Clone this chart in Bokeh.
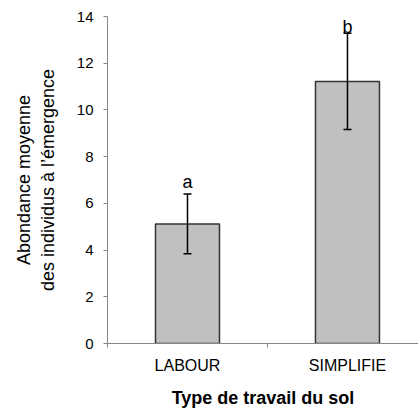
from bokeh.plotting import figure
from bokeh.models import Range1d, FixedTicker
from bokeh.core.properties import value
from bokeh.embed import file_html
from bokeh.resources import INLINE

categories = ["LABOUR", "SIMPLIFIE"]
means = [5.12, 11.22]
errors = [1.28, 2.06]
letters = ["a", "b"]
letter_y = [6.68, 13.33]
y_ticks = [0, 2, 4, 6, 8, 10, 12, 14]

FONT = "Liberation Sans"

xs = [i + 0.5 for i in range(len(categories))]
lower = [m - e for m, e in zip(means, errors)]
upper = [m + e for m, e in zip(means, errors)]
cap = 0.025

p = figure(width=418, height=410, output_backend="svg", toolbar_location=None,
           x_range=Range1d(0, 1.944), y_range=Range1d(0, 14),
           min_border_left=107, min_border_right=0, min_border_top=16, min_border_bottom=66)
p.outline_line_color = None
p.xgrid.grid_line_color = None
p.ygrid.grid_line_color = None
p.background_fill_color = "white"
p.border_fill_color = "white"

p.vbar(x=xs, top=means, bottom=0, width=0.4, fill_color="#C0C0C0",
       line_color="#333333", line_width=1.5)
p.segment(x0=xs, y0=lower, x1=xs, y1=upper, line_color="black", line_width=1.5)
p.segment(x0=[x - cap for x in xs], y0=upper, x1=[x + cap for x in xs], y1=upper,
          line_color="black", line_width=1.5)
p.segment(x0=[x - cap for x in xs], y0=lower, x1=[x + cap for x in xs], y1=lower,
          line_color="black", line_width=1.5)
p.text(x=xs, y=letter_y, text=letters, text_font=value(FONT), text_font_size="18px",
       text_align="center", text_baseline="alphabetic", text_color="black",
       y_offset=-5)

axis_gray = "#868686"

# y axis
ya = p.yaxis[0]
ya.ticker = FixedTicker(ticks=y_ticks)
ya.axis_line_color = axis_gray
ya.major_tick_line_color = axis_gray
ya.major_tick_out = 4
ya.major_tick_in = 0
ya.minor_tick_line_color = None
ya.major_label_text_font = FONT
ya.major_label_text_font_size = "15px"
ya.major_label_text_color = "black"
ya.major_label_standoff = 10
ya.axis_label = "Abondance moyenne\ndes individus à l’émergence"
ya.axis_label_text_font = FONT
ya.axis_label_text_font_size = "18px"
ya.axis_label_text_font_style = "normal"
ya.axis_label_text_color = "black"
ya.axis_label_standoff = 16

# x axis
xa = p.xaxis[0]
xa.ticker = FixedTicker(ticks=xs, minor_ticks=list(range(len(categories) + 1)))
xa.major_label_overrides = {x: c for x, c in zip(xs, categories)}
xa.axis_line_color = axis_gray
xa.major_tick_line_color = None
xa.major_tick_out = 0
xa.major_tick_in = 0
xa.minor_tick_line_color = axis_gray
xa.minor_tick_out = 4
xa.minor_tick_in = 0
xa.major_label_text_font = FONT
xa.major_label_text_font_size = "16px"
xa.major_label_text_color = "black"
xa.major_label_standoff = 9
xa.axis_label = "Type de travail du sol"
xa.axis_label_text_font = FONT
xa.axis_label_text_font_size = "18px"
xa.axis_label_text_font_style = "bold"
xa.axis_label_text_color = "black"
xa.axis_label_standoff = 11

open("out.html", "w").write(file_html(p, INLINE))
